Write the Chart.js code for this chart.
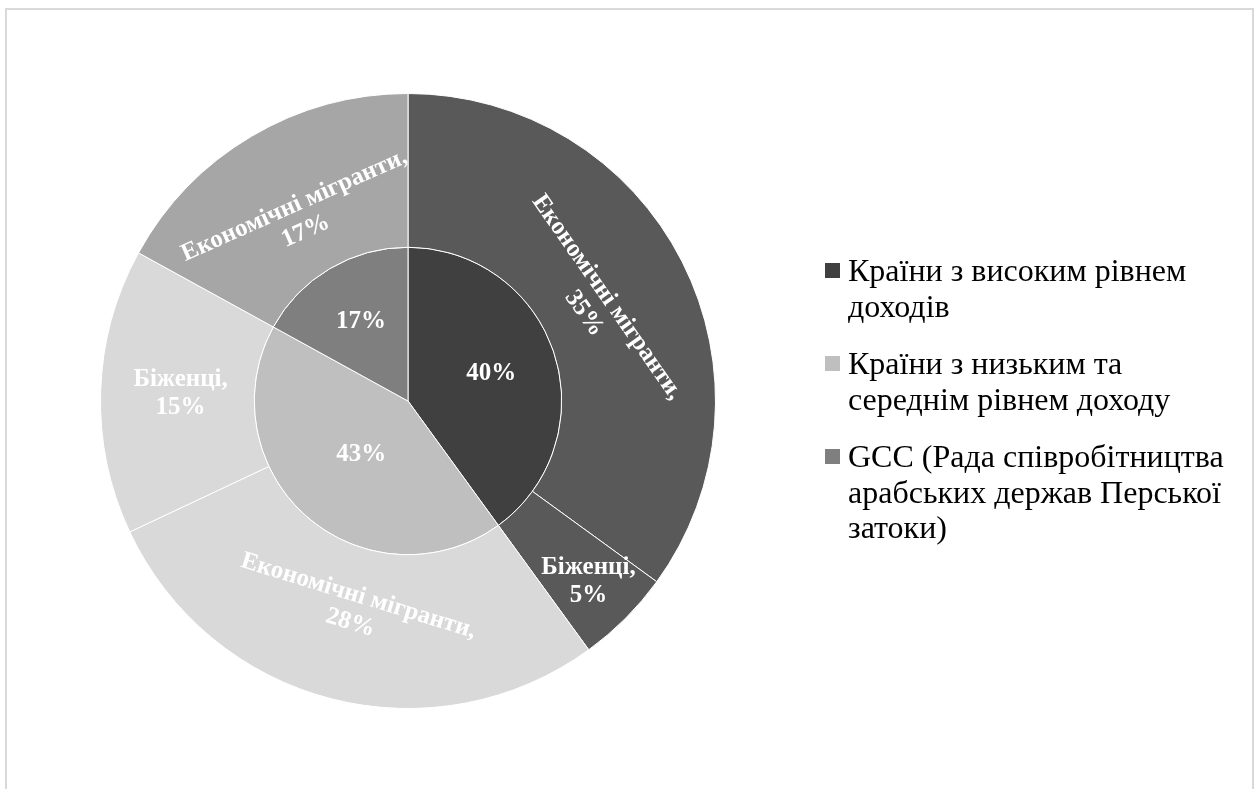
<!DOCTYPE html>
<html>
<head>
<meta charset="utf-8">
<script src="https://cdn.jsdelivr.net/npm/chart.js@4.4.0/dist/chart.umd.min.js"></script>
<style>
  html, body { margin: 0; padding: 0; background: #fff; overflow: hidden; }
  #wrap { position: relative; width: 1259px; height: 789px; }
  #frame { position: absolute; left: 5px; top: 8px; width: 1249px; height: 800px; border: 2px solid #d9d9d9; box-sizing: border-box; }
  canvas { position: absolute; left: 0; top: 0; }
</style>
</head>
<body>
<div id="wrap">
  <div id="frame"></div>
  <canvas id="chart" width="1259" height="789"></canvas>
</div>
<script>
// inner ring: country groups
const groupNames = ['Країни з високим рівнем доходів', 'Країни з низьким та середнім рівнем доходу', 'GCC (Рада співробітництва арабських держав Перської затоки)'];
const groupShares = [40, 43, 17];
const groupColors = ['#404040', '#bfbfbf', '#7f7f7f'];

// outer ring: migrant type inside each group
const migrantTypes = ['Економічні мігранти', 'Біженці', 'Економічні мігранти', 'Біженці', 'Економічні мігранти'];
const migrantShares = [35, 5, 28, 15, 17];
const migrantColors = ['#595959', '#595959', '#d9d9d9', '#d9d9d9', '#a6a6a6'];

const serif = '"Liberation Serif", "Times New Roman", serif';

// white labels on slices, some outer ones turned like in Excel
const sliceLabels = {
  id: 'sliceLabels',
  afterDatasetsDraw(chart, args, opts) {
    const ctx = chart.ctx;
    ctx.save();
    ctx.fillStyle = '#fff';
    ctx.font = 'bold 25px ' + serif;
    ctx.textAlign = 'center';
    ctx.textBaseline = 'middle';
    chart.data.datasets.forEach((ds, di) => {
      const meta = chart.getDatasetMeta(di);
      meta.data.forEach((arc, i) => {
        const p = arc.getProps(['x', 'y', 'startAngle', 'endAngle', 'innerRadius', 'outerRadius'], true);
        const mid = (p.startAngle + p.endAngle) / 2;
        const r = p.innerRadius + opts.radius[di][i] * (p.outerRadius - p.innerRadius);
        const x = p.x + r * Math.cos(mid);
        const y = p.y + r * Math.sin(mid);
        const rot = opts.rotate[di][i] * Math.PI / 180;
        const lines = di === 0
          ? [migrantTypes[i] + ',', migrantShares[i] + '%']
          : [groupShares[i] + '%'];
        ctx.save();
        ctx.translate(x, y);
        ctx.rotate(rot);
        const lh = 28;
        lines.forEach((t, k) => {
          ctx.fillText(t, 0, (k - (lines.length - 1) / 2) * lh);
        });
        ctx.restore();
      });
    });
    ctx.restore();
  }
};

// legend on the right with wrapped text
const sideLegend = {
  id: 'sideLegend',
  afterDraw(chart, args, opts) {
    const ctx = chart.ctx;
    ctx.save();
    ctx.font = '32px ' + serif;
    ctx.textBaseline = 'alphabetic';
    let y = opts.top;
    groupNames.forEach((name, i) => {
      // wrap words
      const words = name.split(' ');
      const lines = [];
      let cur = '';
      words.forEach(w => {
        const test = cur ? cur + ' ' + w : w;
        if (ctx.measureText(test).width > opts.maxWidth && cur) {
          lines.push(cur);
          cur = w;
        } else {
          cur = test;
        }
      });
      lines.push(cur);
      ctx.fillStyle = groupColors[i];
      ctx.fillRect(opts.left, y - 18, 15, 15);
      ctx.fillStyle = '#000';
      lines.forEach((t, k) => {
        ctx.fillText(t, opts.left + 23, y + k * opts.lineHeight);
      });
      y += lines.length * opts.lineHeight + opts.gap;
    });
    ctx.restore();
  }
};

const ctx = document.getElementById('chart').getContext('2d');
const chart = new Chart(ctx, {
  type: 'doughnut',
  data: {
    labels: migrantTypes,
    datasets: [
      {
        label: 'Тип мігрантів',
        data: migrantShares,
        backgroundColor: migrantColors,
        borderColor: '#ffffff',
        borderWidth: 1
      },
      {
        label: 'Група країн',
        data: groupShares,
        backgroundColor: groupColors,
        borderColor: '#ffffff',
        borderWidth: 1
      }
    ]
  },
  options: {
    responsive: false,
    animation: false,
    cutout: 0,
    layout: { padding: { top: 93, bottom: 80, left: 100, right: 543 } },
    plugins: {
      legend: { display: false },
      tooltip: { enabled: false },
      sliceLabels: {
        radius: [[0.37, 0.66, 0.40, 0.48, 0.38], [0.57, 0.46, 0.60]],
        rotate: [[55, 0, 17, 0, -24], [0, 0, 0]]
      },
      sideLegend: { left: 825, top: 281, maxWidth: 390, lineHeight: 35.5, gap: 22 }
    }
  },
  plugins: [sliceLabels, sideLegend]
});
</script>
</body>
</html>
